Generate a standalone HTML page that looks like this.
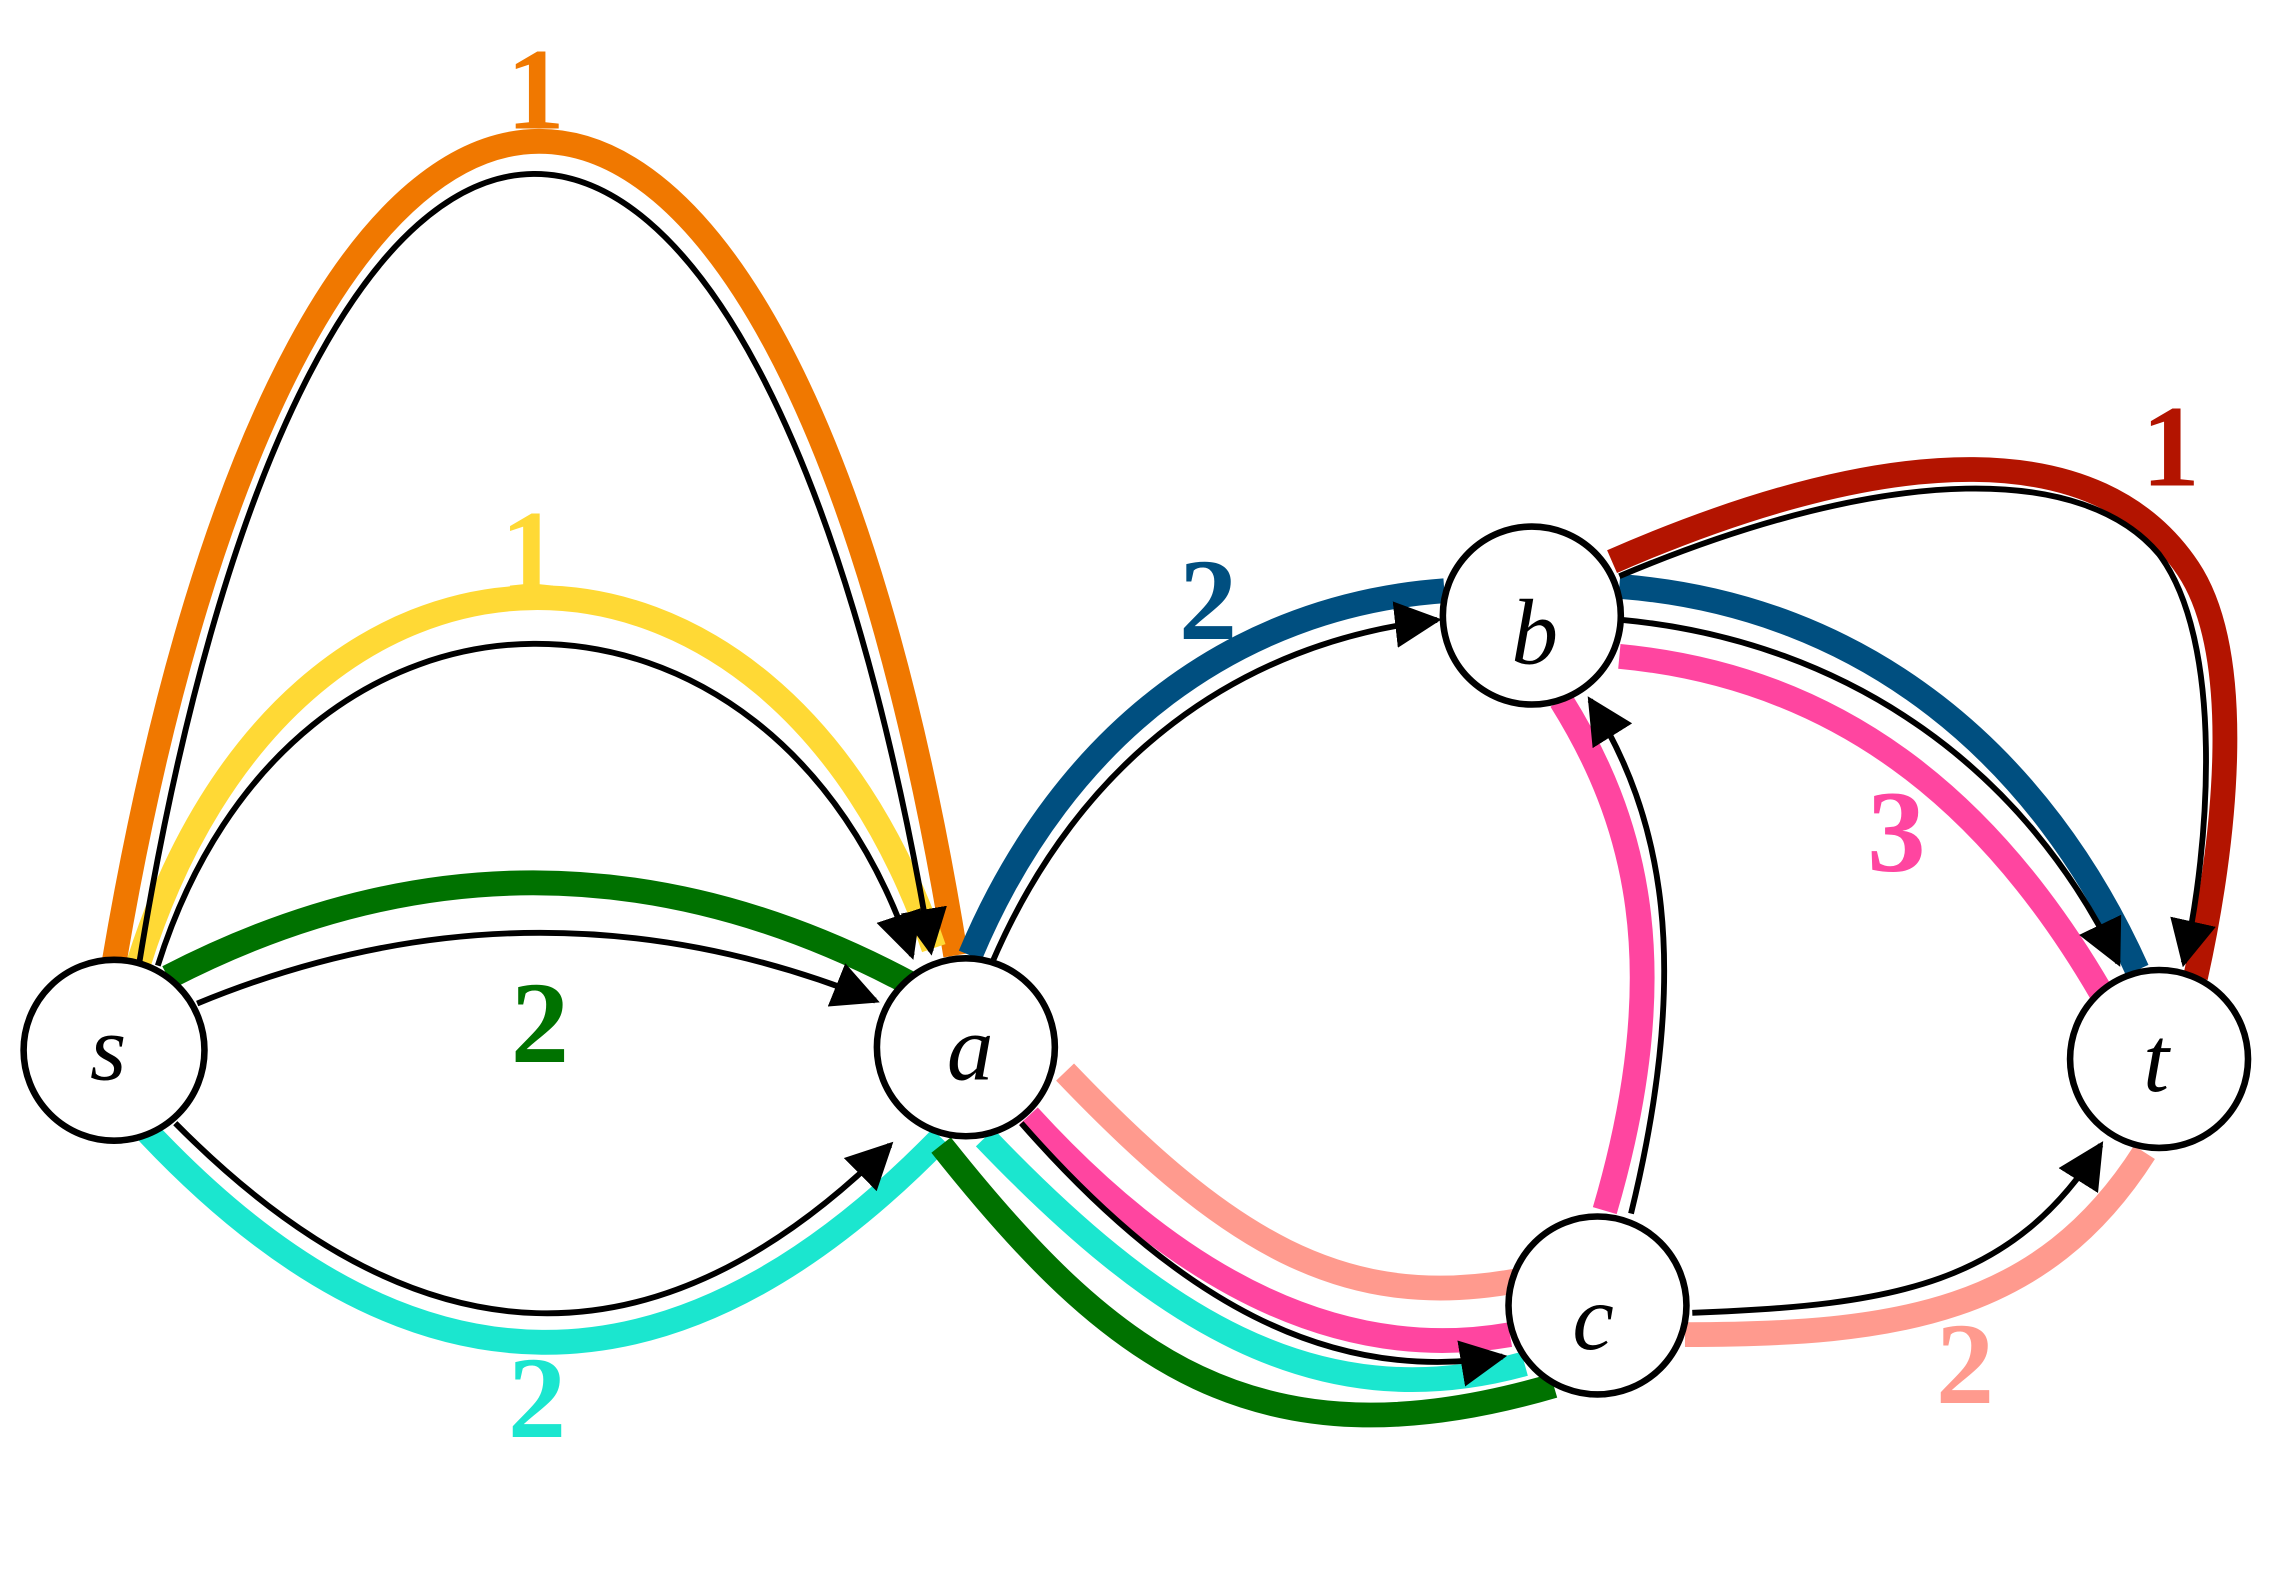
<!DOCTYPE html>
<html><head><meta charset="utf-8"><style>html,body{margin:0;padding:0;background:#fff}svg{display:block}</style></head>
<body>
<svg width="2276" height="1587" viewBox="0 0 1560 1088" xmlns="http://www.w3.org/2000/svg">
<defs>
<marker id="a2" viewBox="0 0 10 10" refX="9" refY="5" markerWidth="8" markerHeight="8" orient="auto" markerUnits="strokeWidth"><path d="M0,0 L10,5 L0,10 z" fill="#000"/></marker>
</defs>
<g fill="none" stroke-width="17" stroke-linejoin="round">
<path d="M78,660 C 205,-90 535,-90 655,655" stroke="#F07800"/>
<path d="M95,660 C 200,328 530,328 640,650" stroke="#FFD935"/>
<path d="M115,670 Q 370,538 625,675" stroke="#007200"/>
<path d="M100,775 Q 370,1063 645,780" stroke="#1BE6CF"/>
<path d="M645,785 C 760,930 860,1010 1065,950" stroke="#007200"/>
<path d="M675,780 C 790,900 900,975 1045,935" stroke="#1BE6CF"/>
<path d="M705,765 C 810,880 920,935 1035,915" stroke="#FF45A0"/>
<path d="M730,735 C 840,850 920,900 1040,878" stroke="#FF9A8E"/>
<path d="M665,655 C 730,500 850,415 990,405" stroke="#004F80"/>
<path d="M1110,402 C 1280,415 1400,520 1465,665" stroke="#004F80"/>
<path d="M1110,450 C 1270,465 1370,560 1440,680" stroke="#FF45A0"/>
<path d="M1100,830 C 1150,660 1120,560 1070,480" stroke="#FF45A0"/>
<path d="M1105,385 C 1300,300 1440,300 1500,390 C 1540,450 1525,580 1505,670" stroke="#B31400"/>
<path d="M1155,915 C 1300,915 1400,900 1470,790" stroke="#FF9A8E"/>
</g>
<g fill="none" stroke="#000" stroke-width="4">
<path d="M95,662 C 212,-60 518,-60 638,652" marker-end="url(#a2)"/>
<path d="M108,662 C 200,369 530,369 625,655" marker-end="url(#a2)"/>
<path d="M135,688 Q 368,592 600,686" marker-end="url(#a2)"/>
<path d="M120,770 Q 370,1023 610,785" marker-end="url(#a2)"/>
<path d="M700,770 C 805,890 910,950 1030,930" marker-end="url(#a2)"/>
<path d="M680,660 C 740,520 850,440 985,425" marker-end="url(#a2)"/>
<path d="M1112,425 C 1270,440 1390,530 1452,660" marker-end="url(#a2)"/>
<path d="M1118,832 C 1160,660 1140,560 1090,480" marker-end="url(#a2)"/>
<path d="M1110,395 C 1300,315 1430,320 1480,380 C 1525,440 1515,580 1497,660" marker-end="url(#a2)"/>
<path d="M1160,900 C 1300,895 1380,880 1440,785" marker-end="url(#a2)"/>
</g>
<g fill="#fff" stroke="#000" stroke-width="4.5">
<circle cx="78" cy="720" r="62"/>
<circle cx="662" cy="718" r="61"/>
<circle cx="1050" cy="422" r="61"/>
<circle cx="1095" cy="895" r="61"/>
<circle cx="1480" cy="726" r="61"/>
</g>
<g font-family="Liberation Serif, serif" font-style="italic" font-size="64" text-anchor="middle">
<text x="74" y="740">s</text>
<text x="665" y="740">a</text>
<text x="1052" y="455">b</text>
<text x="1092" y="925">c</text>
<text x="1478" y="748">t</text>
</g>
<g font-family="Liberation Serif, serif" font-weight="bold" font-size="80" text-anchor="middle">
<text x="367" y="88" fill="#F07800">1</text>
<text x="363" y="405" fill="#FFD935">1</text>
<text x="370" y="728" fill="#007200">2</text>
<text x="368" y="985" fill="#1BE6CF">2</text>
<text x="828" y="438" fill="#004F80">2</text>
<text x="1300" y="597" fill="#FF45A0">3</text>
<text x="1488" y="333" fill="#B31400">1</text>
<text x="1347" y="962" fill="#FF9A8E">2</text>
</g>
</svg>
</body></html>
